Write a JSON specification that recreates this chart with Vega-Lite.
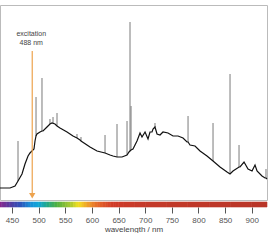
{
  "$schema": "https://vega.github.io/schema/vega-lite/v6.json",
  "autosize": {"type": "pad"},
  "padding": {"left": -3, "top": 4, "right": 0, "bottom": 0},
  "background": "white",
  "spacing": 0,
  "config": {
    "view": {"stroke": "#bbbbbb", "strokeWidth": 1},
    "font": "Liberation Sans",
    "concat": {"spacing": 0}
  },
  "datasets": {
    "curve": [
      {"wl": 427.5, "v": 8.5}, {"wl": 446.3, "v": 8.5}, {"wl": 455.7, "v": 9.5}, {"wl": 461.3, "v": 12},
      {"wl": 468.8, "v": 15.5}, {"wl": 474.4, "v": 20.5}, {"wl": 480.1, "v": 24.5}, {"wl": 483.8, "v": 26},
      {"wl": 491.3, "v": 28}, {"wl": 493.2, "v": 32}, {"wl": 495.1, "v": 34.5}, {"wl": 496.9, "v": 35.5},
      {"wl": 502.6, "v": 36.5}, {"wl": 506.3, "v": 37}, {"wl": 508.2, "v": 37}, {"wl": 515.7, "v": 39},
      {"wl": 521.3, "v": 40.5}, {"wl": 525.1, "v": 41}, {"wl": 530.7, "v": 40.5}, {"wl": 534.5, "v": 39.5},
      {"wl": 540.1, "v": 38.5}, {"wl": 553.3, "v": 36.5}, {"wl": 564.5, "v": 34.5}, {"wl": 572.0, "v": 33.5},
      {"wl": 577.7, "v": 32.5}, {"wl": 579.5, "v": 32}, {"wl": 596.4, "v": 29}, {"wl": 609.6, "v": 27},
      {"wl": 624.6, "v": 26}, {"wl": 634.0, "v": 25}, {"wl": 639.6, "v": 24.5}, {"wl": 647.1, "v": 24},
      {"wl": 656.5, "v": 24}, {"wl": 665.9, "v": 25}, {"wl": 669.6, "v": 26.5}, {"wl": 671.5, "v": 27},
      {"wl": 673.4, "v": 27.5}, {"wl": 677.1, "v": 28}, {"wl": 684.6, "v": 32}, {"wl": 690.3, "v": 36},
      {"wl": 694.0, "v": 34}, {"wl": 699.7, "v": 36.5}, {"wl": 705.3, "v": 33}, {"wl": 709.0, "v": 36.5},
      {"wl": 712.8, "v": 36.5}, {"wl": 714.7, "v": 38}, {"wl": 718.4, "v": 39}, {"wl": 722.2, "v": 35.5},
      {"wl": 727.8, "v": 35}, {"wl": 733.4, "v": 36.5}, {"wl": 742.8, "v": 36}, {"wl": 752.2, "v": 34.5},
      {"wl": 761.6, "v": 34.5}, {"wl": 771.0, "v": 33.5}, {"wl": 778.5, "v": 31.5}, {"wl": 780.4, "v": 31.5},
      {"wl": 784.1, "v": 30}, {"wl": 793.5, "v": 29.5}, {"wl": 802.9, "v": 27}, {"wl": 816.0, "v": 24.5},
      {"wl": 827.3, "v": 22}, {"wl": 840.4, "v": 19}, {"wl": 853.6, "v": 16.5}, {"wl": 859.2, "v": 15.5},
      {"wl": 864.8, "v": 17}, {"wl": 876.1, "v": 19}, {"wl": 877.9, "v": 19}, {"wl": 885.5, "v": 21.5},
      {"wl": 893.0, "v": 18}, {"wl": 900.5, "v": 17}, {"wl": 906.1, "v": 20}, {"wl": 909.9, "v": 17},
      {"wl": 919.2, "v": 14.5}, {"wl": 924.9, "v": 13.5}, {"wl": 926.7, "v": 13.5}, {"wl": 928.6, "v": 13}
    ],
    "spikes": [
      {"wl": 461.3, "v": 12, "top": 32}, {"wl": 495.1, "v": 34.5, "top": 54},
      {"wl": 506.3, "v": 37, "top": 63.5}, {"wl": 521.3, "v": 40.5, "top": 43},
      {"wl": 527.0, "v": 41, "top": 44}, {"wl": 534.5, "v": 39.5, "top": 46},
      {"wl": 572.0, "v": 33.5, "top": 35.5}, {"wl": 579.5, "v": 32, "top": 34},
      {"wl": 624.6, "v": 26, "top": 35}, {"wl": 647.1, "v": 24, "top": 40.5},
      {"wl": 665.9, "v": 25, "top": 42}, {"wl": 671.5, "v": 27, "top": 91.5},
      {"wl": 673.4, "v": 27.5, "top": 49.5}, {"wl": 718.4, "v": 39, "top": 41},
      {"wl": 780.4, "v": 31.5, "top": 44.5}, {"wl": 827.3, "v": 22, "top": 41},
      {"wl": 859.2, "v": 15.5, "top": 65.5}, {"wl": 876.1, "v": 19, "top": 30},
      {"wl": 926.7, "v": 13.5, "top": 18}
    ],
    "bar": [
      {"wl": 427.5, "to": 430, "mid": 428}, {"wl": 430, "to": 435, "mid": 432.5}, {"wl": 435, "to": 440, "mid": 437.5},
      {"wl": 440, "to": 445, "mid": 442.5}, {"wl": 445, "to": 450, "mid": 447.5}, {"wl": 450, "to": 455, "mid": 452.5},
      {"wl": 455, "to": 460, "mid": 457.5}, {"wl": 460, "to": 465, "mid": 462.5}, {"wl": 465, "to": 470, "mid": 467.5},
      {"wl": 470, "to": 475, "mid": 472.5}, {"wl": 475, "to": 480, "mid": 477.5}, {"wl": 480, "to": 485, "mid": 482.5},
      {"wl": 485, "to": 490, "mid": 487.5}, {"wl": 490, "to": 495, "mid": 492.5}, {"wl": 495, "to": 500, "mid": 497.5},
      {"wl": 500, "to": 505, "mid": 502.5}, {"wl": 505, "to": 510, "mid": 507.5}, {"wl": 510, "to": 515, "mid": 512.5},
      {"wl": 515, "to": 520, "mid": 517.5}, {"wl": 520, "to": 525, "mid": 522.5}, {"wl": 525, "to": 530, "mid": 527.5},
      {"wl": 530, "to": 535, "mid": 532.5}, {"wl": 535, "to": 540, "mid": 537.5}, {"wl": 540, "to": 545, "mid": 542.5},
      {"wl": 545, "to": 550, "mid": 547.5}, {"wl": 550, "to": 555, "mid": 552.5}, {"wl": 555, "to": 560, "mid": 557.5},
      {"wl": 560, "to": 565, "mid": 562.5}, {"wl": 565, "to": 570, "mid": 567.5}, {"wl": 570, "to": 575, "mid": 572.5},
      {"wl": 575, "to": 580, "mid": 577.5}, {"wl": 580, "to": 585, "mid": 582.5}, {"wl": 585, "to": 590, "mid": 587.5},
      {"wl": 590, "to": 595, "mid": 592.5}, {"wl": 595, "to": 600, "mid": 597.5}, {"wl": 600, "to": 605, "mid": 602.5},
      {"wl": 605, "to": 610, "mid": 607.5}, {"wl": 610, "to": 615, "mid": 612.5}, {"wl": 615, "to": 620, "mid": 617.5},
      {"wl": 620, "to": 625, "mid": 622.5}, {"wl": 625, "to": 630, "mid": 627.5}, {"wl": 630, "to": 635, "mid": 632.5},
      {"wl": 635, "to": 640, "mid": 637.5}, {"wl": 640, "to": 645, "mid": 642.5}, {"wl": 645, "to": 650, "mid": 647.5},
      {"wl": 650, "to": 660, "mid": 655}, {"wl": 660, "to": 680, "mid": 670}, {"wl": 680, "to": 700, "mid": 690},
      {"wl": 700, "to": 740, "mid": 720}, {"wl": 740, "to": 780, "mid": 760}, {"wl": 780, "to": 820, "mid": 800},
      {"wl": 820, "to": 860, "mid": 840}, {"wl": 860, "to": 900, "mid": 880}, {"wl": 900, "to": 928.6, "mid": 914}
    ],
    "excitation": [
      {"wl": 488, "label": "excitation\n488 nm", "v": 77, "bottom": 5, "head": 4.6, "t": 87.5}
    ]
  },
  "vconcat": [
    {
      "width": 267,
      "height": 195,
      "encoding": {
        "x": {"field": "wl", "type": "quantitative",
          "scale": {"domain": [427.5, 928.6], "nice": false, "zero": false}, "axis": null},
        "y": {"field": "v", "type": "quantitative",
          "scale": {"domain": [2.5, 100], "nice": false, "zero": false}, "axis": null}
      },
      "layer": [
        {
          "data": {"name": "spikes"},
          "mark": {"type": "rule", "color": "#7a7a7a", "strokeWidth": 1},
          "encoding": {"y2": {"field": "top"}}
        },
        {
          "data": {"name": "curve"},
          "mark": {"type": "line", "color": "#111111", "strokeWidth": 1.2},
          "encoding": {}
        },
        {
          "data": {"name": "excitation"},
          "mark": {"type": "rule", "color": "#eda34e", "strokeWidth": 1.2},
          "encoding": {"y2": {"field": "bottom"}}
        },
        {
          "data": {"name": "excitation"},
          "mark": {"type": "point", "shape": "triangle-down", "filled": true, "color": "#eda34e", "size": 40, "opacity": 1},
          "encoding": {"y": {"field": "head", "type": "quantitative", "axis": null}}
        },
        {
          "data": {"name": "excitation"},
          "mark": {"type": "text", "fontSize": 7, "color": "#444444", "align": "center", "baseline": "top", "dx": -1, "lineBreak": "\n", "lineHeight": 9},
          "encoding": {
            "y": {"field": "t", "type": "quantitative", "axis": null},
            "text": {"field": "label", "type": "nominal"}
          }
        }
      ]
    },
    {
      "width": 267,
      "height": 5,
      "view": {"stroke": null},
      "data": {"name": "bar"},
      "mark": {"type": "rect", "strokeWidth": 0.6},
      "encoding": {
        "x": {"field": "wl", "type": "quantitative",
          "scale": {"domain": [427.5, 928.6], "nice": false, "zero": false},
          "axis": {"values": [450, 500, 550, 600, 650, 700, 750, 800, 850, 900], "title": "wavelength / nm",
            "domain": false, "grid": false, "ticks": true, "tickSize": 6, "tickColor": "#555555", "tickWidth": 1,
            "labelFontSize": 8, "labelColor": "#555555", "labelPadding": 3,
            "titleFontSize": 8, "titleFontWeight": "normal", "titleColor": "#444444", "titlePadding": 1}},
        "x2": {"field": "to"},
        "color": {"field": "mid", "type": "quantitative", "legend": null,
          "scale": {"type": "linear", "interpolate": "rgb",
            "domain": [427.5, 445, 465, 485, 500, 515, 535, 560, 575, 590, 610, 640, 700, 928.6],
            "range": ["#8b2a8e", "#5a3a9e", "#3050b8", "#1a90d8", "#12a8d8", "#20a890", "#50b040", "#a8c830", "#f2e020", "#f0a828", "#e66a28", "#d03a28", "#c43a2a", "#b83528"]}},
        "stroke": {"field": "mid", "type": "quantitative", "legend": null,
          "scale": {"type": "linear", "interpolate": "rgb",
            "domain": [427.5, 445, 465, 485, 500, 515, 535, 560, 575, 590, 610, 640, 700, 928.6],
            "range": ["#8b2a8e", "#5a3a9e", "#3050b8", "#1a90d8", "#12a8d8", "#20a890", "#50b040", "#a8c830", "#f2e020", "#f0a828", "#e66a28", "#d03a28", "#c43a2a", "#b83528"]}}
      }
    }
  ]
}
